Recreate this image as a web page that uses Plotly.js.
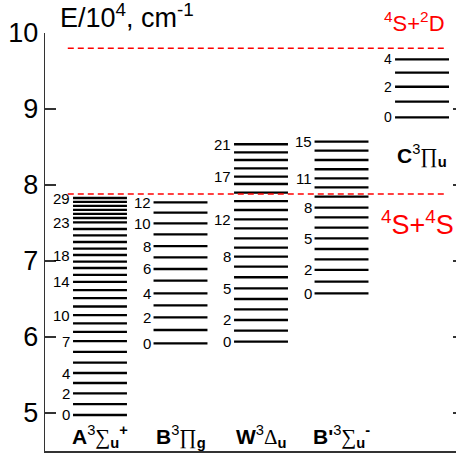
<!DOCTYPE html>
<html>
<head>
<meta charset="utf-8">
<script src="https://cdn.plot.ly/plotly-3.0.1.min.js"></script>
<style>html,body{margin:0;padding:0;background:#fff;}#chart{width:456px;height:455px;}</style>
</head>
<body>
<div id="chart"></div>
<script>
// ---- data (energies in 10^4 cm^-1) ----
const stateNames = ["A", "B", "W", "B'", "C"];
const stateLabels = [
  "<b>A</b><sup>3</sup><span style='font-family:Liberation Serif'>∑</span><sub><b>u</b></sub><sup><b>+</b></sup>",
  "<b>B</b><sup>3</sup><span style='font-family:Liberation Serif'>∏</span><sub><b>g</b></sub>",
  "<b>W</b><sup>3</sup><span style='font-family:Liberation Serif'>Δ</span><sub><b>u</b></sub>",
  "<b>B'</b><sup>3</sup><span style='font-family:Liberation Serif'>∑</span><sub><b>u</b></sub><sup><b>-</b></sup>",
  "<b>C</b><sup>3</sup><span style='font-family:Liberation Serif'>∏</span><sub><b>u</b></sub>"
];
const levelsA = [4.974, 5.118, 5.259, 5.395, 5.526, 5.664, 5.805, 5.947, 6.068, 6.180,
                 6.289, 6.401, 6.511, 6.618, 6.726, 6.818, 6.908, 6.993, 7.079, 7.164,
                 7.250, 7.336, 7.421, 7.507, 7.566, 7.621, 7.674, 7.726, 7.778, 7.829];
const levelsB = [5.917, 6.092, 6.259, 6.417, 6.575, 6.741, 6.895, 7.049, 7.197, 7.351,
                 7.496, 7.636, 7.772];
const levelsW = [5.938, 6.083, 6.224, 6.364, 6.500, 6.641, 6.786, 6.925, 7.057, 7.175,
                 7.299, 7.430, 7.549, 7.671, 7.789, 7.899, 8.013, 8.109, 8.220, 8.329,
                 8.430, 8.536];
const levelsBp = [6.575, 6.728, 6.882, 7.022, 7.158, 7.299, 7.438, 7.575, 7.701, 7.846,
                  7.970, 8.088, 8.207, 8.329, 8.451, 8.570];
const levelsC = [8.891, 9.096, 9.293, 9.478, 9.654];
const labeledA = [0, 2, 4, 7, 10, 14, 18, 23, 29];
const labeledB = [0, 2, 4, 6, 8, 10, 12];
const labeledW = [0, 2, 5, 8, 12, 17, 21];
const labeledBp = [0, 2, 5, 8, 11, 15];
const labeledC = [0, 2, 4];
const limitNames = ["<sup>4</sup>S+<sup>4</sup>S", "<sup>4</sup>S+<sup>2</sup>D"];
const limitEnergies = [7.882, 9.80];
const yTicks = [5, 6, 7, 8, 9, 10];
const yTickText = ["5", "6", "7", "8", "9", "10"];
const yTitle = "E/10<sup>4</sup>, cm<sup>-1</sup>";

// ---- build ----
const allLevels = [levelsA, levelsB, levelsW, levelsBp, levelsC];
const allLabeled = [labeledA, labeledB, labeledW, labeledBp, labeledC];
const HW = 0.335;
const FONT = "Liberation Sans, Arial, sans-serif";

const traces = [];
const annotations = [];
allLevels.forEach((lev, i) => {
  const xs = [], ys = [];
  lev.forEach(e => { xs.push(i - HW, i + HW, null); ys.push(e, e, null); });
  traces.push({x: xs, y: ys, mode: 'lines', line: {color: '#000', width: 2.3},
               hoverinfo: 'skip', showlegend: false, name: stateNames[i]});
  allLabeled[i].forEach(v => {
    annotations.push({x: i - HW, y: lev[v], xref: 'x', yref: 'y', text: String(v),
      showarrow: false, xanchor: 'right', yanchor: 'middle', xshift: -1,
      font: {family: FONT, size: i === 4 ? 14 : 15, color: '#000'}});
  });
});
// dissociation limits
limitEnergies.forEach((e, k) => {
  traces.push({x: [-0.40, 4.32], y: [e, e], mode: 'lines',
    line: {color: '#ff0000', width: 1.6, dash: '6px,4px'}, hoverinfo: 'skip', showlegend: false});
});
annotations.push({x: 1, xref: 'paper', y: limitEnergies[0], yref: 'y', text: limitNames[0],
  showarrow: false, xanchor: 'right', yanchor: 'middle', yshift: -29,
  font: {family: FONT, size: 27, color: '#ff0000'}});
annotations.push({x: 4.31, xref: 'x', y: limitEnergies[1], yref: 'y', text: limitNames[1],
  showarrow: false, xanchor: 'right', yanchor: 'middle', yshift: 26,
  font: {family: FONT, size: 22, color: '#ff0000'}});
// state labels
stateLabels.forEach((t, i) => {
  if (i < 4) {
    annotations.push({x: i, xref: 'x', y: 0, yref: 'paper', text: t, showarrow: false,
      xanchor: 'center', yanchor: 'middle', yshift: 15,
      font: {family: FONT, size: 21, color: '#000'}});
  } else {
    annotations.push({x: i, xref: 'x', y: 8.39, yref: 'y', text: t, showarrow: false,
      xanchor: 'center', yanchor: 'middle',
      font: {family: FONT, size: 21, color: '#000'}});
  }
});
// axis title
annotations.push({x: 0.0316, xref: 'paper', y: 1, yref: 'paper', text: yTitle, showarrow: false,
  xanchor: 'left', yanchor: 'middle', yshift: 17,
  font: {family: FONT, size: 27, color: '#000'}});

// helper trace for right-side ticks
traces.push({x: [null], y: [null], yaxis: 'y2', mode: 'markers', hoverinfo: 'skip', showlegend: false});

const layout = {
  width: 456, height: 455,
  margin: {l: 45, r: 0, t: 33, b: 4, pad: 0},
  paper_bgcolor: '#fff', plot_bgcolor: '#fff',
  font: {family: FONT, color: '#000'},
  showlegend: false,
  xaxis: {range: [-0.683, 4.422], showgrid: false, zeroline: false, showticklabels: false,
          ticks: '', showline: true, linecolor: '#333', linewidth: 2},
  yaxis: {range: [4.5, 10], showgrid: false, zeroline: false, showline: true,
          linecolor: '#333', linewidth: 1.3, ticks: 'inside', ticklen: 11, tickwidth: 1.3,
          tickcolor: '#333', tickvals: yTicks, ticktext: yTickText,
          tickfont: {family: FONT, size: 27, color: '#000'}},
  yaxis2: {range: [4.5, 10], overlaying: 'y', side: 'right', showgrid: false, zeroline: false,
           showline: false, ticks: 'inside', ticklen: 3, tickwidth: 1.3, tickcolor: '#333',
           tickvals: yTicks, showticklabels: false},
  annotations: annotations
};
Plotly.newPlot('chart', traces, layout, {staticPlot: true, displayModeBar: false});
</script>
</body>
</html>
